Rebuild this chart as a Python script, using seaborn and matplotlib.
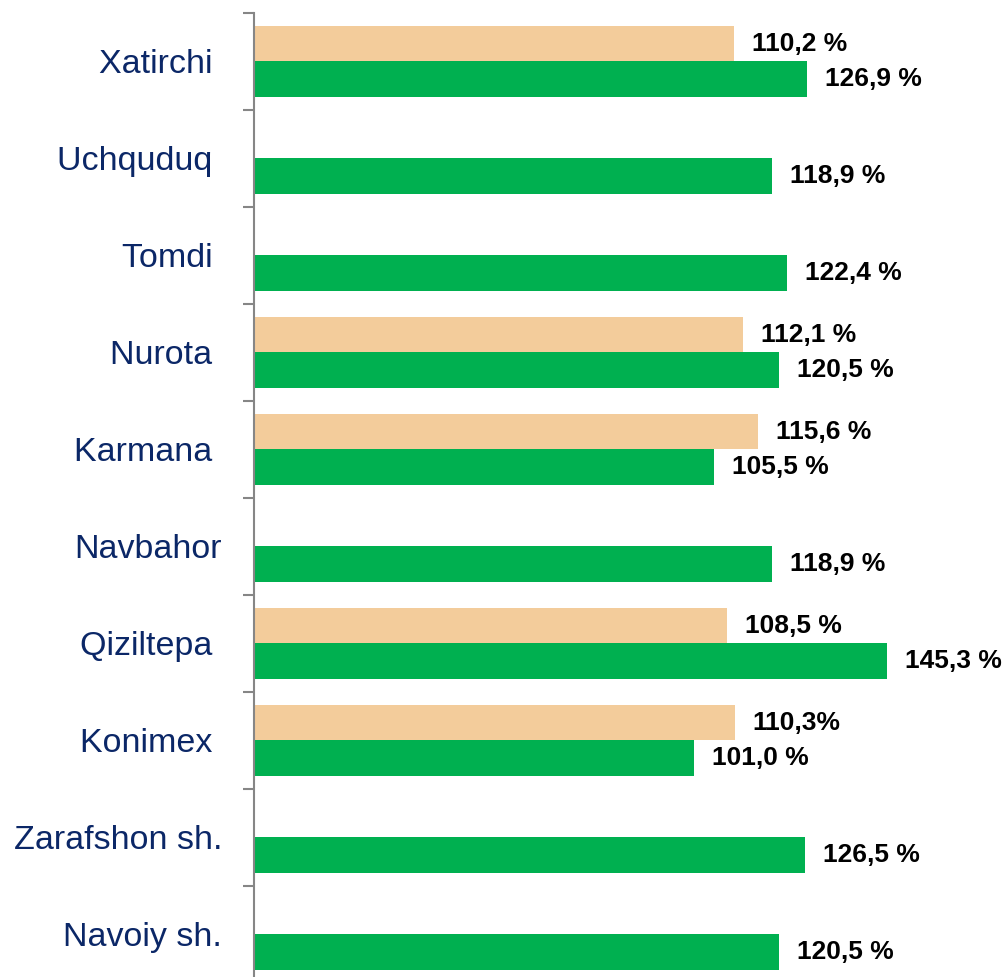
import numpy as np
import pandas as pd
import matplotlib
matplotlib.use("Agg")
import matplotlib.pyplot as plt
import seaborn as sns

# districts, top to bottom (trailing spaces as in the original labels)
districts = ["Xatirchi ", "Uchquduq ", "Tomdi ", "Nurota ", "Karmana ", "Navbahor",
             "Qiziltepa ", "Konimex ", "Zarafshon sh.", "Navoiy sh."]
prev_pct = [110.2, np.nan, np.nan, 112.1, 115.6, np.nan, 108.5, 110.3, np.nan, np.nan]
curr_pct = [126.9, 118.9, 122.4, 120.5, 105.5, 118.9, 145.3, 101.0, 126.5, 120.5]
prev_lbl = ["110,2 %", "", "", "112,1 %", "115,6 %", "", "108,5 %", "110,3%", "", ""]
curr_lbl = ["126,9 %", "118,9 %", "122,4 %", "120,5 %", "105,5 %", "118,9 %",
            "145,3 %", "101,0 %", "126,5 %", "120,5 %"]

series = ["prev", "curr"]
colors = ["#F3CC9B", "#00B050"]

df = pd.DataFrame({
    "district": districts * 2,
    "series": ["prev"] * len(districts) + ["curr"] * len(districts),
    "pct": prev_pct + curr_pct,
    "label": prev_lbl + curr_lbl,
}).dropna(subset=["pct"])

sns.set_style("white")
plt.rcParams["font.family"] = ["Liberation Sans", "DejaVu Sans"]

fig = plt.figure(figsize=(10.04, 9.77), dpi=100)
ax = fig.add_axes([254 / 1004, -6 / 977, 750 / 1004, 970 / 977])

sns.barplot(data=df, y="district", x="pct", hue="series", order=districts,
            hue_order=series, palette=colors, saturation=1, orient="h",
            width=0.742, dodge=True, errorbar=None, legend=False, ax=ax,
            edgecolor="none", linewidth=0)

for cont, s in zip(ax.containers, series):
    labs = df.loc[df["series"] == s, "label"].tolist()
    ax.bar_label(cont, labels=labs, padding=13, fontsize=19, fontweight="bold",
                 color="black")

ax.set_xlim(0, 172.1)
ax.set_xlabel("")
ax.set_ylabel("")
ax.set_xticks([])

for side in ["top", "right", "bottom"]:
    ax.spines[side].set_visible(False)
ax.spines["left"].set_color("#868686")
ax.spines["left"].set_linewidth(1.5)

ax.set_yticks(np.arange(-0.5, len(districts)), minor=True)
ax.tick_params(axis="y", which="minor", length=8, width=1.5, color="#868686",
               direction="out", left=True)
ax.tick_params(axis="y", which="major", length=0, pad=23, labelsize=24.5,
               labelcolor="#0B2767")

fig.savefig("out.png", dpi=100)
